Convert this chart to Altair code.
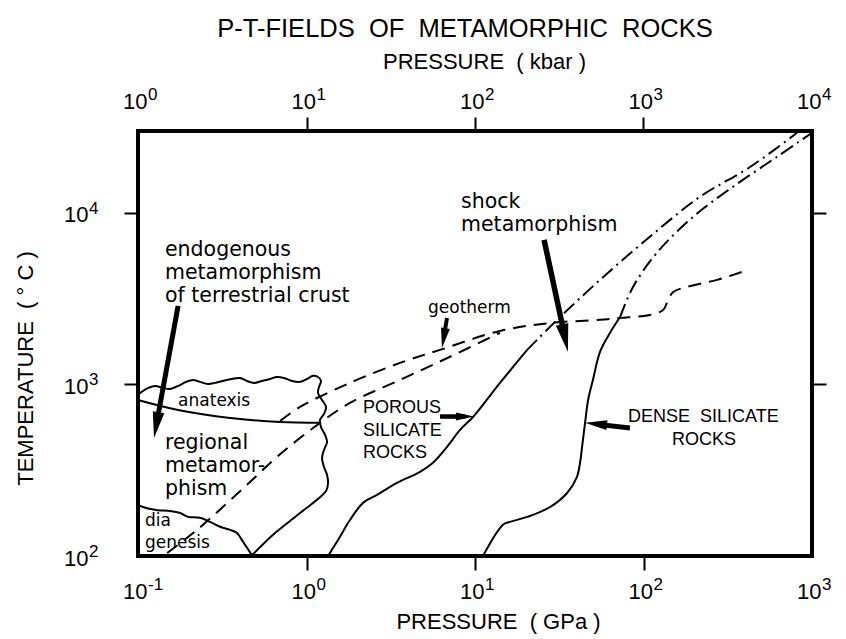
import altair as alt
import pandas as pd

# ---------------------------------------------------------------
# Field boundaries: pressure in GPa, temperature in deg C
# ---------------------------------------------------------------
# wavy upper limit of crustal metamorphism (anatexis top, high-P side,
# then the straight lower-right edge down to the diagenesis corner)
crust_P = [0.100, 0.107, 0.115, 0.126, 0.141, 0.155, 0.173, 0.193, 0.212, 0.233,
           0.260, 0.286, 0.319, 0.361, 0.403, 0.443, 0.488, 0.545, 0.607, 0.668,
           0.735, 0.820, 0.915, 1.007, 1.094, 1.170, 1.219, 1.186, 1.170, 1.236,
           1.306, 1.270, 1.202, 1.219, 1.288, 1.324, 1.270, 1.236, 1.270, 1.324,
           1.342, 1.306, 0.915, 0.650, 0.475]
crust_T = [869, 916, 954, 980, 954, 941, 980, 1035, 1062, 1035,
           1007, 1021, 1048, 1076, 1091, 1048, 1021, 1048, 1076, 1105,
           1091, 1048, 1035, 1076, 1122, 1105, 1048, 967, 892, 812,
           739, 673, 621, 565, 508, 462, 415, 373, 330, 297,
           267, 239, 178, 136, 101]

# lower limit of anatexis
anatexis_P = [0.100, 0.173, 0.352, 0.697, 1.202]
anatexis_T = [812, 710, 638, 604, 597]

# upper limit of diagenesis
diagenesis_P = [0.100, 0.113, 0.131, 0.155, 0.178, 0.198, 0.233, 0.268, 0.307,
                0.352, 0.387, 0.420, 0.475]
diagenesis_T = [198, 190, 185, 183, 178, 169, 167, 158, 148, 142, 136, 121, 101]

# geotherms (dashed)
geotherm_P = [0.697, 0.915, 1.811, 3.59, 6.20, 14.07, 27.9, 55.2, 72.6, 109,
              131, 140, 150, 181, 273, 340, 400]
geotherm_T = [612, 739, 1021, 1335, 1590, 2050, 2280, 2380, 2440, 2540,
              2720, 3110, 3460, 3700, 4070, 4350, 4590]
geotherm_low_P = [0.149, 0.224, 0.328, 0.462, 0.668, 1.094, 1.811, 3.59, 7.11, 14.07]
geotherm_low_T = [104, 142, 198, 270, 378, 557, 780, 1062, 1450, 2000]

# shock curves of porous and dense silicate rocks
porous_P = [1.342, 1.538, 1.811, 2.164, 2.62, 3.44, 4.72, 5.63, 6.82, 8.15,
            9.73, 14.07, 20.4]
porous_T = [100, 124, 162, 204, 227, 267, 309, 349, 432, 543, 646, 1021, 1590]
porous_hi_P = [20.4, 29.8, 55.2, 109, 216, 429, 815]
porous_hi_T = [1590, 2310, 4070, 7250, 12400, 18500, 29300]

dense_P = [11.15, 14.66, 16.1, 20.4, 27.9, 35.2, 40.3, 42.0, 43.2, 45.0, 46.9,
           50.1, 55.2, 63.3, 72.6]
dense_T = [100, 152, 158, 169, 193, 233, 289, 349, 432, 597, 812, 1062, 1550,
           2000, 2470]
dense_hi_P = [72.6, 86.7, 120, 197, 340, 619, 1000]
dense_hi_T = [2470, 3700, 5850, 9480, 14200, 21200, 29300]

# arrows: tail, neck (where the head starts), tip
arrow_names = ["endogenous", "shock", "geotherm", "porous", "dense"]
arrow_P0 = [0.173, 25.7, 6.82, 6.20, 83.1]
arrow_T0 = [2870, 6960, 2440, 650, 557]
arrow_P1 = [0.1284, 34.3, 6.51, 8.72, 52.2]
arrow_T1 = [580, 1858, 1865, 650, 587]
arrow_P2 = [0.1245, 35.6, 6.37, 9.86, 45.0]
arrow_T2 = [488, 1550, 1630, 650, 597]

# axis ticks and the powers of ten they carry
gpa_ticks = [0.1, 1, 10, 100, 1000]
gpa_exp = ["-1", "0", "1", "2", "3"]
kbar_ticks = [1, 10, 100, 1000, 10000]
kbar_exp = ["0", "1", "2", "3", "4"]
temp_ticks = [100, 1000, 10000]
temp_exp = ["2", "3", "4"]
temp_right_ticks = [1000, 10000]

# ---------------------------------------------------------------
SANS = "DejaVu Sans"
HELV = "Liberation Sans"
EXP_SIZE = 17

xs = alt.Scale(type="log", domain=[0.1, 1000])
ys = alt.Scale(type="log", domain=[100, 30000])

x_axis = alt.Axis(
    values=gpa_ticks, labelExpr="'10'", labelAlign="right", labelOffset=9,
    title="PRESSURE\u00a0\u00a0( GPa )", titleX=360, titleY=72,
    titleBaseline="alphabetic", titleAlign="center",
    labelBaseline="alphabetic", labelPadding=28, labelFlush=False, labelOverlap=False,
    tickOpacity={"condition": {"test": "datum.value < 0.5 || datum.value > 500", "value": 0}, "value": 1},
)
y_axis = alt.Axis(
    values=temp_ticks, labelExpr="'10'", labelAlign="right", labelOffset=9,
    title="TEMPERATURE\u00a0\u00a0( ° C )", titleX=-106, titleY=237, titleAngle=270,
    titleBaseline="alphabetic", titleAlign="center",
    labelBaseline="alphabetic", labelPadding=36, labelFlush=False, labelOverlap=False,
    tickOpacity={"condition": {"test": "datum.value < 500", "value": 0}, "value": 1},
)


def xenc(field="P"):
    return alt.X(f"{field}:Q", scale=xs, axis=x_axis)


def yenc(field="T"):
    return alt.Y(f"{field}:Q", scale=ys, axis=y_axis)


def series(name, P, T):
    return pd.DataFrame({"curve": name, "i": range(len(P)), "P": P, "T": T})


def lines(df, dash=None, width=2.0):
    kw = dict(color="black", strokeWidth=width, interpolate="catmull-rom")
    if dash:
        kw["strokeDash"] = dash
    return alt.Chart(df).mark_line(**kw).encode(
        x=xenc(), y=yenc(), detail="curve:N", order="i:Q")


solid = pd.concat([
    series("crust", crust_P, crust_T),
    series("anatexis", anatexis_P, anatexis_T),
    series("diagenesis", diagenesis_P, diagenesis_T),
    series("porous", porous_P, porous_T),
    series("dense", dense_P, dense_T),
])
dashed = pd.concat([
    series("geotherm", geotherm_P, geotherm_T),
    series("geotherm_low", geotherm_low_P, geotherm_low_T),
])
dashdot = pd.concat([
    series("porous_hi", porous_hi_P, porous_hi_T),
    series("dense_hi", dense_hi_P, dense_hi_T),
])

layers = [
    lines(solid, width=2.0),
    lines(dashed, dash=[13, 8], width=2.0),
    lines(dashdot, dash=[14, 5, 2, 5], width=2.0),
]

# arrows
arrows = pd.DataFrame({"name": arrow_names, "P0": arrow_P0, "T0": arrow_T0,
                       "P1": arrow_P1, "T1": arrow_T1, "P2": arrow_P2, "T2": arrow_T2})
arrow_style = {
    "endogenous": dict(angle=190, head=26, shaft=5),
    "shock": dict(angle=168, head=28, shaft=5.5),
    "geotherm": dict(angle=190, head=20, shaft=4),
    "porous": dict(angle=90, head=18, shaft=4.5),
    "dense": dict(angle=276, head=22, shaft=5),
}
HEAD = "M0,0L0.45,2L-0.45,2Z"
for name, st in arrow_style.items():
    one = arrows[arrows["name"] == name]
    layers.append(alt.Chart(one).mark_rule(color="black", strokeWidth=st["shaft"], strokeCap="butt")
                  .encode(x=xenc("P0"), y=yenc("T0"), x2="P1:Q", y2="T1:Q"))
    layers.append(alt.Chart(one).mark_point(shape=HEAD, filled=True, color="black", opacity=1,
                                            strokeWidth=0, angle=st["angle"], size=st["head"] ** 2)
                  .encode(x=xenc("P2"), y=yenc("T2")))


# labels inside the frame
def label(rows, font, size, line_height):
    df = pd.DataFrame(rows, columns=["text", "P", "T"])
    return alt.Chart(df).mark_text(align="left", baseline="alphabetic", font=font, fontSize=size,
                                   lineBreak="\n", lineHeight=line_height, color="black").encode(
        x=xenc(), y=yenc(), text="text:N")


layers += [
    label([("endogenous\nmetamorphism\nof terrestrial crust", 0.1446, 5610),
           ("regional\nmetamor-\nphism", 0.1446, 421),
           ("shock\nmetamorphism", 8.26, 10700)], SANS, 20.5, 23),
    label([("anatexis", 0.173, 749),
           ("dia\ngenesis", 0.110, 150),
           ("geotherm", 5.26, 2610)], SANS, 17, 22),
    label([("POROUS\nSILICATE\nROCKS", 2.165, 679),
           ("DENSE\u00a0\u00a0SILICATE", 80.9, 604),
           ("ROCKS", 147.6, 444)], HELV, 18, 22.5),
]

# raised exponents next to the "10" tick labels
gpa_exp_df = pd.DataFrame({"P": gpa_ticks, "e": gpa_exp})
temp_exp_df = pd.DataFrame({"T": temp_ticks, "e": temp_exp})
layers += [
    alt.Chart(gpa_exp_df).mark_text(align="left", baseline="alphabetic", dx=10, font=HELV,
                                    fontSize=EXP_SIZE, color="black")
    .encode(x=xenc(), y=alt.value(459), text="e:N"),
    alt.Chart(temp_exp_df).mark_text(align="left", baseline="alphabetic", dy=1, font=HELV,
                                     fontSize=EXP_SIZE, color="black")
    .encode(x=alt.value(-49), y=yenc(), text="e:N"),
]

main = alt.layer(*layers)

# second pair of axes: kbar on top, plain ticks on the right
top_axis = alt.Axis(
    orient="top", values=kbar_ticks, labelExpr="'10'", labelAlign="right", labelOffset=9,
    title="PRESSURE\u00a0\u00a0( kbar )", titleX=346, titleY=-63,
    titleBaseline="alphabetic", titleAlign="center",
    labelBaseline="alphabetic", labelPadding=9, labelFlush=False, labelOverlap=False,
    tickOpacity={"condition": {"test": "datum.value < 5 || datum.value > 5000", "value": 0}, "value": 1},
)
right_axis = alt.Axis(orient="right", values=temp_right_ticks, labels=False)
kbar_x = alt.X("kbar:Q", scale=alt.Scale(type="log", domain=[1, 10000]), axis=top_axis)
kbar_df = pd.DataFrame({"kbar": kbar_ticks, "e": kbar_exp})
axes = alt.layer(
    alt.Chart(kbar_df).mark_point(opacity=0).encode(
        x=kbar_x,
        y=alt.YDatum(1000, type="quantitative", scale=ys, axis=right_axis, title=None),
    ),
    alt.Chart(kbar_df).mark_text(align="left", baseline="alphabetic", dx=10, font=HELV,
                                 fontSize=EXP_SIZE, color="black")
    .encode(x=kbar_x, y=alt.value(-31), text="e:N"),
)

chart = (
    alt.layer(main, axes)
    .resolve_scale(x="independent", y="independent")
    .properties(
        width=674, height=425,
        autosize=alt.AutoSizeParams(type="none"),
        padding={"left": 138, "top": 131, "right": 34, "bottom": 83},
        title=alt.TitleParams("P-T-FIELDS\u00a0\u00a0OF\u00a0\u00a0METAMORPHIC\u00a0\u00a0ROCKS",
                              font=HELV, fontSize=25.5, fontWeight="normal", color="black",
                              anchor="middle", frame="group", dx=-10, dy=4, offset=12),
    )
    .configure_view(stroke="black", strokeWidth=4)
    .configure_axis(domain=False, grid=False, tickColor="black", tickWidth=2, tickSize=14,
                    labelFont=HELV, labelFontSize=22, labelColor="black",
                    titleFont=HELV, titleFontSize=22, titleFontWeight="normal", titleColor="black")
)

chart.save("out.html", embed_options={"renderer": "svg", "actions": False})
